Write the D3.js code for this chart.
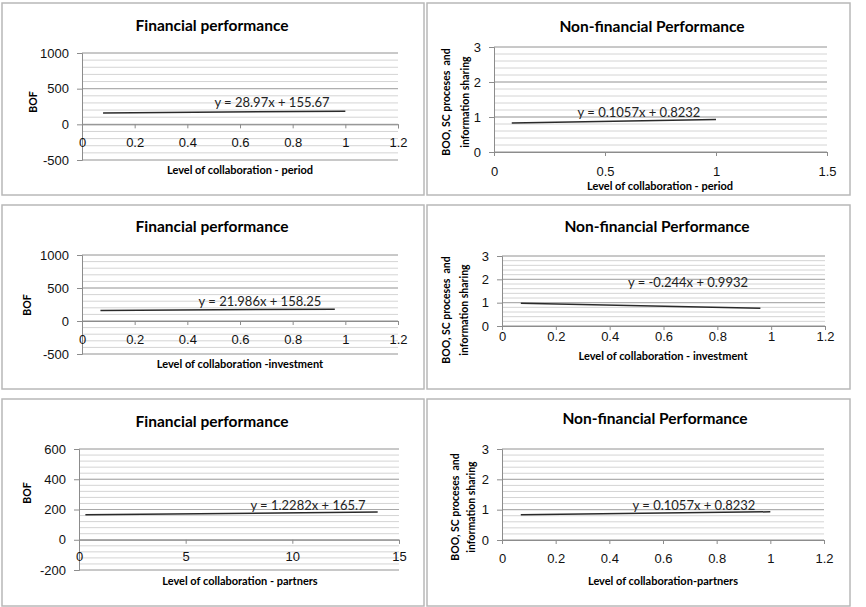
<!DOCTYPE html>
<html>
<head>
<meta charset="utf-8">
<script src="https://cdn.jsdelivr.net/npm/d3@7"></script>
<style>
  body { margin: 0; background: #fff; }
  svg { display: block; font-family: Lato, "Open Sans", sans-serif; }
  text { white-space: pre; }
</style>
</head>
<body>
<div class="chart"></div>
<script>
// data
const titles = ["Financial performance", "Non-financial Performance",
                "Financial performance", "Non-financial Performance",
                "Financial performance", "Non-financial Performance"];
const xTitles = ["Level of collaboration - period", "Level of collaboration - period",
                 "Level of collaboration -investment", "Level of collaboration - investment",
                 "Level of collaboration - partners", "Level of collaboration-partners"];
const yTitlesFin = ["BOF"];
const yTitlesNon = ["BOO, SC proceses  and", "information sharing"];
const xDomains = [[0, 1.2], [0, 1.5], [0, 1.2], [0, 1.2], [0, 15], [0, 1.2]];
const xSteps = [0.2, 0.5, 0.2, 0.2, 5, 0.2];
const yDomains = [[-500, 1000], [0, 3], [-500, 1000], [0, 3], [-200, 600], [0, 3]];
const ySteps = [500, 1, 500, 1, 200, 1];
const yMinor = [100, 0.2, 100, 0.2, 40, 0.2];
const trendX = [[0.08, 1], [0.08, 1], [0.07, 0.96], [0.07, 0.96], [0.3, 14], [0.07, 1]];
const trendY = [[158, 185], [0.83, 0.93], [160, 179], [0.976, 0.759], [166, 183], [0.83, 0.93]];
const equations = ["y = 28.97x + 155.67", "y = 0.1057x + 0.8232",
                   "y = 21.986x + 158.25", "y = -0.244x + 0.9932",
                   "y = 1.2282x + 165.7", "y = 0.1057x + 0.8232"];

// layout of each panel
const layout = [
  {box: [2, 3, 422, 192], l: 82, r: 398, t: 53, b: 160, tx: 212, ty: 26, xtx: 240, xty: 170, ytx: [33], yty: 102, ex: 272, ey: 102, lo: 20},
  {box: [427, 3, 423, 192], l: 494, r: 827, t: 47, b: 152, tx: 652, ty: 27, xtx: 660, xty: 186, ytx: [446, 465], yty: 102, ex: 639, ey: 112, lo: 21},
  {box: [2, 205, 422, 184], l: 82, r: 398, t: 255, b: 354, tx: 212, ty: 227, xtx: 240, xty: 364, ytx: [27], yty: 305, ex: 260, ey: 301, lo: 20},
  {box: [427, 205, 423, 184], l: 502, r: 825, t: 256, b: 326, tx: 657, ty: 227, xtx: 663, xty: 356, ytx: [446, 464], yty: 310, ex: 688, ey: 282, lo: 12},
  {box: [2, 399, 422, 207], l: 79, r: 399, t: 449, b: 570, tx: 212, ty: 422, xtx: 240, xty: 581, ytx: [27], yty: 493, ex: 308, ey: 505, lo: 19},
  {box: [427, 399, 423, 207], l: 502, r: 824, t: 449, b: 540, tx: 655, ty: 419, xtx: 663, xty: 581, ytx: [455, 471], yty: 507, ex: 694, ey: 505, lo: 20}
];

const svg = d3.select(".chart").append("svg")
    .attr("width", 866)
    .attr("height", 607);

const rangeStep = (a, b, s) => d3.range(Math.round(a / s), Math.round(b / s) + 1).map(k => +(k * s).toFixed(6));
const plain = d => String(d);

layout.forEach((p, i) => {
    const g = svg.append("g");
    const x = d3.scaleLinear().domain(xDomains[i]).range([p.l, p.r]);
    const y = d3.scaleLinear().domain(yDomains[i]).range([p.b, p.t]);

    // panel frame
    g.append("rect")
        .attr("x", p.box[0]).attr("y", p.box[1])
        .attr("width", p.box[2]).attr("height", p.box[3])
        .attr("fill", "#fff")
        .attr("stroke", "#b8b8b8")
        .attr("stroke-width", 1.5);

    // minor gridlines
    const minor = rangeStep(yDomains[i][0], yDomains[i][1], yMinor[i]);
    g.selectAll(".minor").data(minor).join("line")
        .attr("x1", p.l).attr("x2", p.r)
        .attr("y1", d => y(d)).attr("y2", d => y(d))
        .attr("stroke", "#d4d4d4").attr("stroke-width", 1);

    // major gridlines
    const major = rangeStep(yDomains[i][0], yDomains[i][1], ySteps[i]);
    g.selectAll(".major").data(major).join("line")
        .attr("x1", p.l).attr("x2", p.r)
        .attr("y1", d => y(d)).attr("y2", d => y(d))
        .attr("stroke", "#a8a8a8").attr("stroke-width", 1);

    // y axis
    const yAxis = g.append("g")
        .attr("transform", `translate(${p.l},0)`)
        .call(d3.axisLeft(y).tickValues(major).tickSize(5).tickPadding(8).tickFormat(plain));
    yAxis.select(".domain").attr("stroke", "#8c8c8c");
    yAxis.selectAll(".tick line").attr("stroke", "#8c8c8c");
    yAxis.selectAll("text").attr("font-size", 13).attr("fill", "#111");

    // x axis at y = 0
    const xTicks = rangeStep(xDomains[i][0], xDomains[i][1], xSteps[i]);
    const xAxis = g.append("g")
        .attr("transform", `translate(0,${y(0)})`)
        .call(d3.axisBottom(x).tickValues(xTicks).tickSize(4).tickPadding(p.lo - 10.5).tickFormat(plain));
    xAxis.select(".domain").attr("stroke", "#8c8c8c");
    xAxis.selectAll(".tick line").attr("stroke", "#8c8c8c");
    xAxis.selectAll("text").attr("font-size", 13).attr("fill", "#111");

    // trendline
    const pts = trendX[i].map((v, k) => [v, trendY[i][k]]);
    g.append("path")
        .datum(pts)
        .attr("d", d3.line().x(d => x(d[0])).y(d => y(d[1])))
        .attr("fill", "none")
        .attr("stroke", "#2a2a2a")
        .attr("stroke-width", 1.5);

    g.append("text")
        .attr("x", p.ex).attr("y", p.ey).attr("dy", "0.35em")
        .attr("text-anchor", "middle")
        .attr("font-size", 13).attr("fill", "#222")
        .text(equations[i]);

    // titles
    g.append("text")
        .attr("x", p.tx).attr("y", p.ty).attr("dy", "0.35em")
        .attr("text-anchor", "middle")
        .attr("font-size", 15.5).attr("font-weight", "bold")
        .text(titles[i]);

    g.append("text")
        .attr("x", p.xtx).attr("y", p.xty).attr("dy", "0.35em")
        .attr("text-anchor", "middle")
        .attr("font-size", 11).attr("font-weight", "bold")
        .text(xTitles[i]);

    const yLines = i % 2 === 0 ? yTitlesFin : yTitlesNon;
    yLines.forEach((t, k) => {
        g.append("text")
            .attr("transform", `translate(${p.ytx[k]},${p.yty}) rotate(-90)`)
            .attr("dy", "0.35em")
            .attr("text-anchor", "middle")
            .attr("font-size", 10.5).attr("font-weight", "bold")
            .text(t);
    });
});
</script>
</body>
</html>
